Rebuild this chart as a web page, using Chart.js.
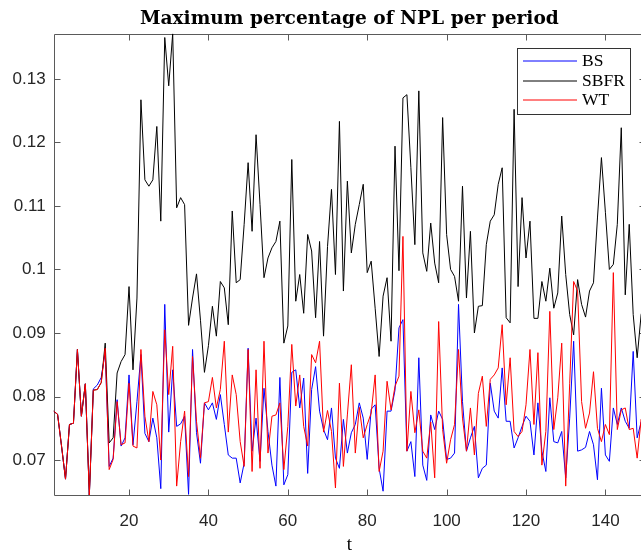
<!DOCTYPE html>
<html>
<head>
<meta charset="utf-8">
<title>Maximum percentage of NPL per period</title>
<script src="https://cdn.jsdelivr.net/npm/chart.js@4.4.1/dist/chart.umd.min.js"></script>
<style>
  html, body { margin: 0; padding: 0; background: #fff; overflow: hidden; }
  #nplChart { display: block; }
</style>
</head>
<body>
<canvas id="nplChart" width="699" height="554"></canvas>
<script>
const periods = Array.from({ length: 150 }, (_, i) => i + 1);

const bsValues = [
    0.0777, 0.0772, 0.0722, 0.0670, 0.0756, 0.0758, 0.0874, 0.0769, 0.0820, 0.0645,
    0.0812, 0.0818, 0.0830, 0.0870, 0.0690, 0.0703, 0.0795, 0.0722, 0.0735, 0.0834,
    0.0724, 0.0792, 0.0866, 0.0742, 0.0729, 0.0766, 0.0735, 0.0655, 0.0945, 0.0744,
    0.0842, 0.0753, 0.0757, 0.0769, 0.0646, 0.0874, 0.0743, 0.0695, 0.0790, 0.0779,
    0.0790, 0.0764, 0.0803, 0.0756, 0.0708, 0.0703, 0.0703, 0.0664, 0.0695, 0.0876,
    0.0714, 0.0766, 0.0698, 0.0813, 0.0745, 0.0692, 0.0659, 0.0830, 0.0661, 0.0677,
    0.0838, 0.0842, 0.0782, 0.0829, 0.0679, 0.0811, 0.0847, 0.0777, 0.0748, 0.0732,
    0.0782, 0.0703, 0.0687, 0.0764, 0.0711, 0.0743, 0.0756, 0.0790, 0.0766, 0.0701,
    0.0780, 0.0787, 0.0687, 0.0651, 0.0777, 0.0777, 0.0810, 0.0908, 0.0921, 0.0714,
    0.0729, 0.0674, 0.0861, 0.0692, 0.0668, 0.0771, 0.0748, 0.0777, 0.0764, 0.0701,
    0.0703, 0.0711, 0.0945, 0.0792, 0.0714, 0.0735, 0.0753, 0.0672, 0.0687, 0.0692,
    0.0821, 0.0777, 0.0766, 0.0845, 0.0761, 0.0761, 0.0719, 0.0735, 0.0753, 0.0769,
    0.0761, 0.0708, 0.0790, 0.0714, 0.0682, 0.0798, 0.0729, 0.0727, 0.0745, 0.0672,
    0.0766, 0.0887, 0.0714, 0.0716, 0.0720, 0.0745, 0.0724, 0.0669, 0.0813, 0.0708,
    0.0698, 0.0782, 0.0756, 0.0782, 0.0761, 0.0750, 0.0871, 0.0735, 0.0760, 0.0750
];

const sbfrValues = [
    0.0777, 0.0772, 0.0722, 0.0670, 0.0756, 0.0758, 0.0874, 0.0769, 0.0820, 0.0645,
    0.0810, 0.0811, 0.0822, 0.0884, 0.0727, 0.0735, 0.0837, 0.0855, 0.0866, 0.0973,
    0.0842, 0.0955, 0.1267, 0.1141, 0.1131, 0.1141, 0.1225, 0.1076, 0.1365, 0.1289,
    0.1371, 0.1097, 0.1113, 0.1102, 0.0912, 0.0955, 0.0993, 0.0920, 0.0838, 0.0880,
    0.0942, 0.0895, 0.0981, 0.0971, 0.0913, 0.1092, 0.0979, 0.0984, 0.1071, 0.1168,
    0.1060, 0.1212, 0.1102, 0.0987, 0.1018, 0.1034, 0.1044, 0.1076, 0.0884, 0.0911,
    0.1173, 0.0950, 0.0992, 0.0931, 0.1055, 0.1029, 0.0924, 0.1044, 0.0895, 0.1036,
    0.1126, 0.0992, 0.1233, 0.0966, 0.1139, 0.1026, 0.1071, 0.1102, 0.1134, 0.0995,
    0.1013, 0.0939, 0.0863, 0.0958, 0.0987, 0.0887, 0.1194, 0.0998, 0.1270, 0.1275,
    0.1160, 0.1039, 0.1281, 0.1026, 0.0997, 0.1073, 0.1010, 0.0979, 0.1239, 0.1055,
    0.1000, 0.0989, 0.0950, 0.1131, 0.0955, 0.1060, 0.0900, 0.0942, 0.0943, 0.1039,
    0.1076, 0.1086, 0.1134, 0.1160, 0.0924, 0.0916, 0.1252, 0.0973, 0.1113, 0.1018,
    0.1076, 0.0923, 0.0923, 0.0981, 0.0950, 0.1002, 0.0939, 0.0963, 0.1084, 0.0992,
    0.0929, 0.0897, 0.0984, 0.0945, 0.0925, 0.0966, 0.0979, 0.1081, 0.1176, 0.1090,
    0.1000, 0.1008, 0.1071, 0.1223, 0.0960, 0.1071, 0.0929, 0.0861, 0.0929, 0.0950
];

const wtValues = [
    0.0777, 0.0772, 0.0722, 0.0670, 0.0756, 0.0758, 0.0874, 0.0769, 0.0820, 0.0645,
    0.0810, 0.0811, 0.0822, 0.0876, 0.0685, 0.0701, 0.0792, 0.0724, 0.0727, 0.0821,
    0.0722, 0.0719, 0.0874, 0.0769, 0.0729, 0.0808, 0.0787, 0.0700, 0.0905, 0.0803,
    0.0879, 0.0659, 0.0729, 0.0777, 0.0674, 0.0863, 0.0761, 0.0703, 0.0790, 0.0792,
    0.0830, 0.0782, 0.0811, 0.0887, 0.0744, 0.0834, 0.0803, 0.0729, 0.0690, 0.0874,
    0.0682, 0.0842, 0.0687, 0.0887, 0.0711, 0.0769, 0.0771, 0.0790, 0.0685, 0.0753,
    0.0882, 0.0785, 0.0834, 0.0753, 0.0722, 0.0866, 0.0853, 0.0887, 0.0744, 0.0778,
    0.0745, 0.0656, 0.0821, 0.0690, 0.0771, 0.0850, 0.0711, 0.0783, 0.0735, 0.0756,
    0.0774, 0.0834, 0.0682, 0.0714, 0.0824, 0.0779, 0.0816, 0.0832, 0.1052, 0.0714,
    0.0808, 0.0743, 0.0779, 0.0714, 0.0703, 0.0760, 0.0672, 0.0918, 0.0748, 0.0695,
    0.0732, 0.0756, 0.0874, 0.0766, 0.0714, 0.0782, 0.0708, 0.0805, 0.0832, 0.0753,
    0.0827, 0.0834, 0.0845, 0.0913, 0.0787, 0.0861, 0.0745, 0.0737, 0.0745, 0.0787,
    0.0874, 0.0756, 0.0869, 0.0692, 0.0745, 0.0934, 0.0748, 0.0798, 0.0884, 0.0659,
    0.0820, 0.0981, 0.0966, 0.0792, 0.0750, 0.0774, 0.0839, 0.0750, 0.0729, 0.0756,
    0.0740, 0.0995, 0.0748, 0.0779, 0.0782, 0.0748, 0.0750, 0.0703, 0.0764, 0.0740
];

const seriesNames = ['BS', 'SBFR', 'WT'];
const seriesColors = ['#0000ff', '#000000', '#ff0000'];
const xTicks = [20, 40, 60, 80, 100, 120, 140];
const yTicks = [0.07, 0.08, 0.09, 0.1, 0.11, 0.12, 0.13];
const chartTitle = 'Maximum percentage of NPL per period';

const axisColor = '#262626';
const frameColor = '#5a5a5a';
const tickLen = 6;

function toPoints(values) {
    return periods.map((t, i) => ({ x: t, y: values[i] }));
}

// Box around the axes with inward ticks on all four sides
const axesFrame = {
    id: 'axesFrame',
    beforeDatasetsDraw(chart) {
        const { ctx, chartArea: a, scales: { x, y } } = chart;
        const L = Math.round(a.left) + 0.5, R = Math.round(a.right) + 0.5;
        const T = Math.round(a.top) + 0.5, B = Math.round(a.bottom) + 0.5;
        ctx.save();
        ctx.strokeStyle = frameColor;
        ctx.lineWidth = 1;
        ctx.beginPath();
        ctx.rect(L, T, R - L, B - T);
        xTicks.forEach(v => {
            const px = Math.round(x.getPixelForValue(v)) + 0.5;
            ctx.moveTo(px, B); ctx.lineTo(px, B - tickLen);
            ctx.moveTo(px, T); ctx.lineTo(px, T + tickLen);
        });
        yTicks.forEach(v => {
            const py = Math.round(y.getPixelForValue(v)) + 0.5;
            ctx.moveTo(L, py); ctx.lineTo(L + tickLen, py);
            ctx.moveTo(R, py); ctx.lineTo(R - tickLen, py);
        });
        ctx.stroke();
        ctx.restore();
    },
    afterDraw(chart) {
        const { ctx, chartArea: a } = chart;
        ctx.save();

        // title, centred over the axes
        ctx.fillStyle = '#000';
        ctx.font = 'bold 18.6px "DejaVu Serif"';
        ctx.textAlign = 'center';
        ctx.textBaseline = 'alphabetic';
        ctx.fillText(chartTitle, (a.left + a.right) / 2, 24);

        // legend box in the upper right corner
        const box = { x: 517.5, y: 48.5, w: 113, h: 66 };
        ctx.fillStyle = '#fff';
        ctx.fillRect(box.x, box.y, box.w, box.h);
        ctx.strokeStyle = '#333';
        ctx.lineWidth = 1;
        ctx.strokeRect(box.x, box.y, box.w, box.h);

        const rows = [61, 81, 100];
        ctx.font = '17.5px "Liberation Serif"';
        ctx.textAlign = 'left';
        ctx.textBaseline = 'middle';
        seriesNames.forEach((name, i) => {
            ctx.beginPath();
            ctx.moveTo(523, rows[i]);
            ctx.lineTo(577, rows[i]);
            ctx.lineWidth = 1;
            ctx.strokeStyle = seriesColors[i];
            ctx.stroke();
            ctx.fillStyle = '#000';
            ctx.fillText(name, 582, rows[i]);
        });
        ctx.restore();
    }
};

const tickFont = { family: '"Liberation Sans", Arial, sans-serif', size: 17 };

new Chart(document.getElementById('nplChart'), {
    type: 'line',
    data: {
        datasets: [bsValues, sbfrValues, wtValues].map((values, i) => ({
            label: seriesNames[i],
            data: toPoints(values),
            borderColor: seriesColors[i],
            borderWidth: 1,
            pointRadius: 0,
            tension: 0,
            order: 3 - i
        }))
    },
    options: {
        responsive: false,
        animation: false,
        devicePixelRatio: 1,
        events: [],
        layout: { padding: { top: 33.7, right: 53.9, bottom: 0, left: 0 } },
        plugins: {
            legend: { display: false },
            tooltip: { enabled: false }
        },
        scales: {
            x: {
                type: 'linear',
                min: 1,
                max: 150,
                grid: { display: false, drawTicks: false },
                border: { display: false },
                afterBuildTicks: scale => { scale.ticks = xTicks.map(v => ({ value: v })); },
                afterFit: scale => { scale.height = 59; },
                ticks: { padding: 16, color: axisColor, font: tickFont, maxRotation: 0, autoSkip: false },
                title: {
                    display: true,
                    text: 't',
                    color: '#000',
                    font: { family: '"Liberation Serif", serif', size: 19 },
                    padding: { top: 0, bottom: -2 }
                }
            },
            y: {
                min: 0.0645,
                max: 0.1371,
                grid: { display: false, drawTicks: false },
                border: { display: false },
                afterBuildTicks: scale => { scale.ticks = yTicks.map(v => ({ value: v })); },
                afterFit: scale => { scale.width = 53.6; },
                ticks: {
                    padding: 8,
                    color: axisColor,
                    font: tickFont,
                    autoSkip: false,
                    callback: value => String(Number(value.toFixed(2)))
                }
            }
        }
    },
    plugins: [axesFrame]
});
</script>
</body>
</html>
